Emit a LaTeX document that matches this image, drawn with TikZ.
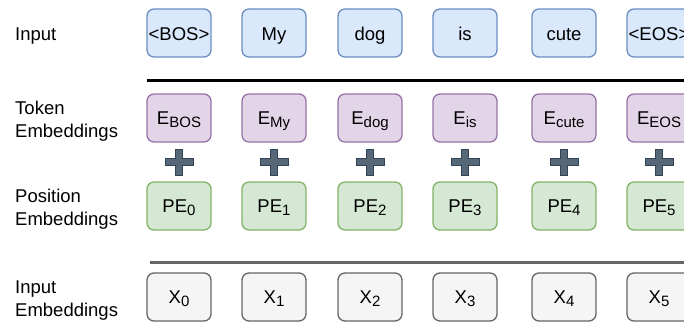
\documentclass[tikz,border=0pt]{standalone}
\usepackage{fontspec}
\setmainfont{Liberation Sans}
\definecolor{bfill}{HTML}{DAE8FC}\definecolor{bdraw}{HTML}{6C8EBF}
\definecolor{pfill}{HTML}{E1D5E7}\definecolor{pdraw}{HTML}{9673A6}
\definecolor{gfill}{HTML}{D5E8D4}\definecolor{gdraw}{HTML}{82B366}
\definecolor{xfill}{HTML}{F5F5F5}\definecolor{xdraw}{HTML}{666666}
\definecolor{plusfill}{HTML}{566778}\definecolor{plusdraw}{HTML}{314354}
\newcommand{\sbs}[1]{\raisebox{-3.6pt}{\fontsize{15}{15}\selectfont #1}}
\tikzset{
  tok/.style={rounded corners=7pt, line width=1.3pt, minimum width=64pt, minimum height=48pt, inner sep=0pt, font=\fontsize{18.5}{22}\selectfont, text height=19pt, text depth=3.6pt},
  subtok/.style={tok, text height=16pt, text depth=3.6pt},
  inbox/.style={tok, fill=bfill, draw=bdraw},
  embbox/.style={subtok, fill=pfill, draw=pdraw},
  posbox/.style={subtok, fill=gfill, draw=gdraw},
  xbox/.style={subtok, fill=xfill, draw=xdraw},
  rowlabel/.style={anchor=west, align=left, inner sep=0pt, font=\fontsize{18.5}{23}\selectfont},
  plusarm/.style={fill=plusfill, draw=plusdraw, line width=0.8pt}
}
\newcommand{\plussign}[2]{%
  \filldraw[plusarm] (#1-14,#2-3.5) -- (#1-3.5,#2-3.5) -- (#1-3.5,#2-13) -- (#1+3.5,#2-13) -- (#1+3.5,#2-3.5) -- (#1+14,#2-3.5) -- (#1+14,#2+3.5) -- (#1+3.5,#2+3.5) -- (#1+3.5,#2+13) -- (#1-3.5,#2+13) -- (#1-3.5,#2+3.5) -- (#1-14,#2+3.5) -- cycle;}
\begin{document}
\begin{tikzpicture}[x=1pt,y=1pt]
\useasboundingbox (0,0) rectangle (684,-324);
\clip (0,0) rectangle (684,-324);
% row labels
\node[rowlabel] (l1) at (15,-36) {Input};
\node[rowlabel] (l2) at (15,-121) {Token\\Embeddings};
\node[rowlabel] (l3) at (15,-209) {Position\\Embeddings};
\node[rowlabel] (l4) at (15,-301) {Input\\Embeddings};
% separators
\coordinate (s1a) at (147,-80.5); \coordinate (s1b) at (690,-80.5);
\draw[line width=3pt, black] (s1a) -- (s1b);
\coordinate (s2a) at (150,-262.5); \coordinate (s2b) at (690,-262.5);
\draw[line width=3pt, xdraw] (s2a) -- (s2b);
% plus signs
\foreach \x in {179,274,370,465,564,659}{
  \plussign{\x}{-162}
}
\node[inbox] (i0) at (179,-33) {<BOS>};
\node[inbox] (i1) at (274,-33) {My};
\node[inbox] (i2) at (370,-33) {dog};
\node[inbox] (i3) at (465,-33) {is};
\node[inbox] (i4) at (564,-33) {cute};
\node[inbox] (i5) at (659,-33) {<EOS>};
\node[embbox] (e0) at (179,-118) {E\sbs{BOS}};
\node[embbox] (e1) at (274,-118) {E\sbs{My}};
\node[embbox] (e2) at (370,-118) {E\sbs{dog}};
\node[embbox] (e3) at (465,-118) {E\sbs{is}};
\node[embbox] (e4) at (564,-118) {E\sbs{cute}};
\node[embbox] (e5) at (659,-118) {E\sbs{EOS}};
\foreach \i/\x in {0/179,1/274,2/370,3/465,4/564,5/659}{
  \node[posbox] (p\i) at (\x,-206) {PE\sbs{\i}};
  \node[xbox] (x\i) at (\x,-297) {X\sbs{\i}};
}
\end{tikzpicture}
\end{document}
